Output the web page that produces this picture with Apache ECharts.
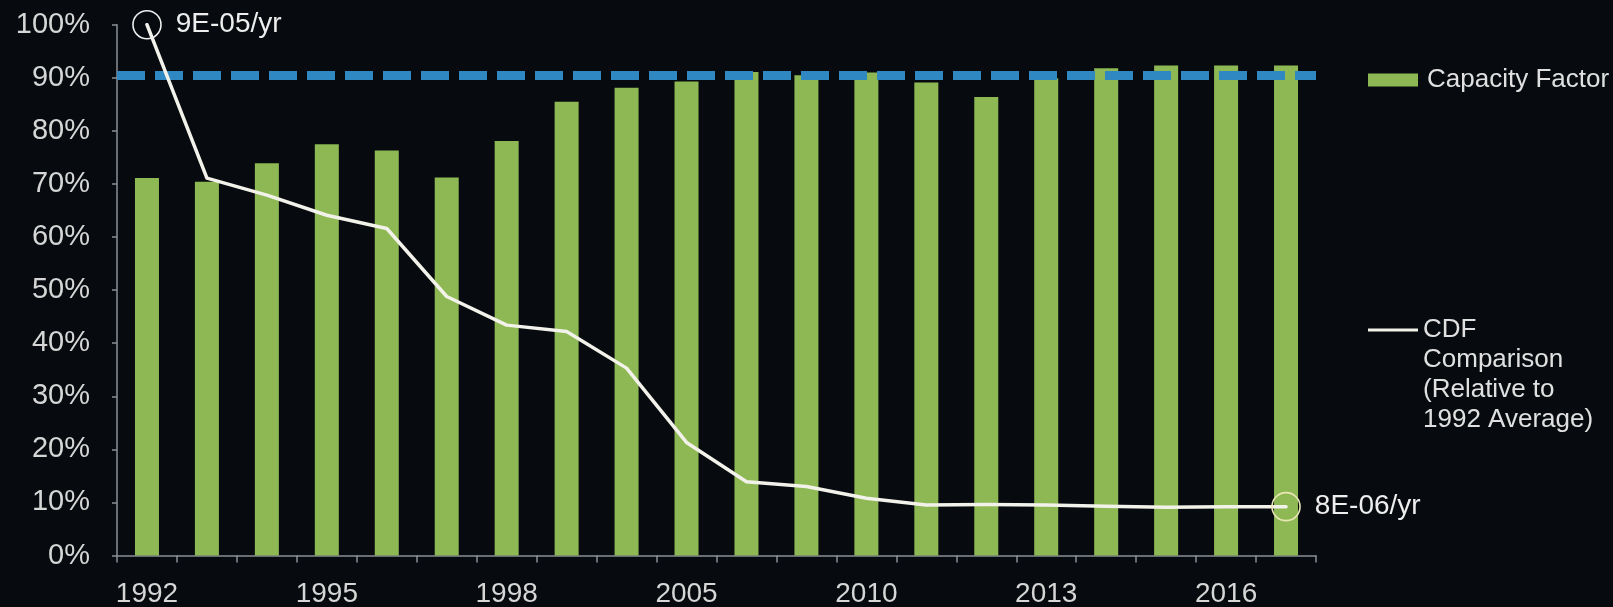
<!DOCTYPE html>
<html>
<head>
<meta charset="utf-8">
<script src="https://cdn.jsdelivr.net/npm/echarts@6/dist/echarts.min.js"></script>
<style>
  html, body { margin: 0; padding: 0; background: #070b0f; }
  #chart { width: 1613px; height: 607px; }
</style>
</head>
<body>
<div id="chart"></div>
<script>
// ---- data ----
const years = ['1992','1993','1994','1995','1996','1997','1998','2001','2003','2005','2007','2008','2010','2011','2012','2013','2014','2015','2016','2017'];
const capacityFactor = [71.1, 70.4, 73.9, 77.5, 76.3, 71.2, 78.1, 85.5, 88.1, 89.3, 91.1, 90.5, 91.0, 89.1, 86.4, 89.9, 91.8, 92.3, 92.3, 92.3];
const cdfComparison = [100, 71.1, 67.9, 64.1, 61.6, 48.8, 43.4, 42.2, 35.3, 21.3, 13.9, 13.0, 10.8, 9.5, 9.6, 9.5, 9.3, 9.1, 9.2, 9.2];
const targetLine = 90.5;
const startLabel = '9E-05/yr';
const endLabel = '8E-06/yr';
const yTicks = { min: 0, max: 100, interval: 10 };
const seriesNames = ['Capacity Factor', 'CDF\nComparison\n(Relative to\n1992 Average)'];

const FONT = '"Liberation Sans", Arial, sans-serif';
const chart = echarts.init(document.getElementById('chart'), null, { renderer: 'canvas' });

const lineData = cdfComparison.map((v, i) => {
  if (i === 0 || i === cdfComparison.length - 1) {
    return {
      value: v,
      symbol: 'circle',
      symbolSize: 28,
      itemStyle: { color: 'rgba(0,0,0,0)', borderColor: i === 0 ? '#eeeeee' : '#e8e6b4', borderWidth: 1.6 },
      label: {
        show: true,
        position: 'right',
        distance: 14,
        formatter: i === 0 ? startLabel : endLabel,
        color: '#eeeeee',
        fontFamily: FONT,
        fontSize: 28
      }
    };
  }
  return { value: v };
});

chart.setOption({
  backgroundColor: '#070b0f',
  animation: false,
  grid: { left: 117, right: 297, top: 24.7, bottom: 51.5, containLabel: false, outerBoundsMode: 'none' },
  legend: [
    {
      data: [{ name: seriesNames[0], icon: 'rect' }],
      left: 1368, top: 67,
      itemWidth: 50, itemHeight: 13,
      padding: 0,
      textStyle: { color: '#e0e0e0', fontFamily: FONT, fontSize: 26, padding: [0, 0, 0, 4] }
    },
    {
      data: [{ name: seriesNames[1], icon: 'rect', itemStyle: { color: '#f2f2ea' } }],
      formatter: function (name) { return '\n\n\n' + name; },
      left: 1368, top: 225,
      itemWidth: 50, itemHeight: 3,
      padding: 0,
      textStyle: { color: '#e0e0e0', fontFamily: FONT, fontSize: 26, lineHeight: 30 }
    }
  ],
  xAxis: {
    type: 'category',
    data: years,
    boundaryGap: true,
    axisLine: { lineStyle: { color: '#8a9096', width: 1.5 } },
    axisTick: { show: true, interval: 0, length: 7, lineStyle: { color: '#8a9096', width: 1.5 } },
    axisLabel: { interval: 2, color: '#d6d6d6', fontFamily: FONT, fontSize: 28, margin: 25 },
    splitLine: { show: false }
  },
  yAxis: {
    type: 'value',
    min: yTicks.min, max: yTicks.max, interval: yTicks.interval,
    axisLine: { show: true, lineStyle: { color: '#8a9096', width: 1.5 } },
    axisTick: { show: true, length: 5, lineStyle: { color: '#8a9096', width: 1.5 } },
    axisLabel: { formatter: '{value}%', color: '#d6d6d6', fontFamily: FONT, fontSize: 29, margin: 27 },
    splitLine: { show: false }
  },
  series: [
    {
      name: seriesNames[0],
      type: 'bar',
      data: capacityFactor,
      barWidth: 24,
      itemStyle: { color: '#8db853' },
      markLine: {
        silent: true,
        symbol: 'none',
        label: { show: false },
        lineStyle: { color: '#2f88c2', width: 9, type: [28, 10] },
        data: [{ yAxis: targetLine }]
      },
      z: 2
    },
    {
      name: seriesNames[1],
      type: 'line',
      data: lineData,
      symbol: 'none',
      lineStyle: { color: '#f2f2ea', width: 3.5, cap: 'round', join: 'round' },
      itemStyle: { color: '#f2f2ea' },
      z: 5
    }
  ]
});
</script>
</body>
</html>
